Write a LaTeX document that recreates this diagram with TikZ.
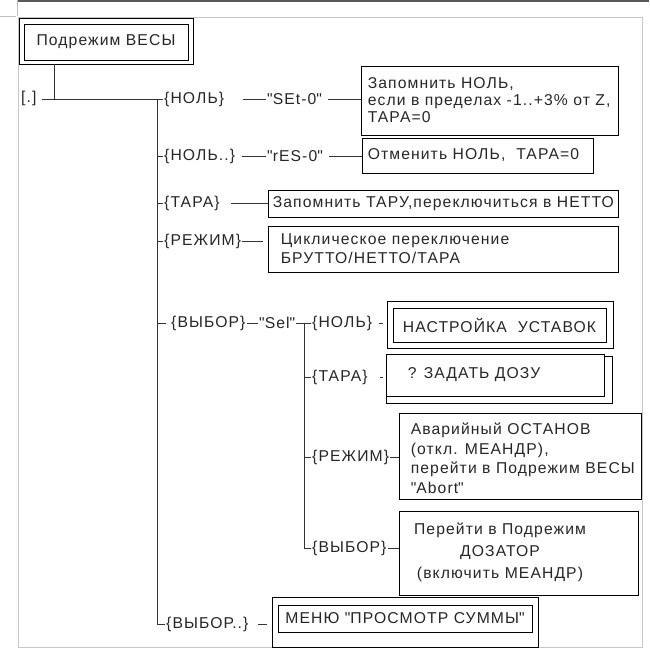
\documentclass[tikz,border=0pt]{standalone}
\usepackage{fontspec}
\setmainfont[LetterSpace=7]{Liberation Sans}
\newcommand{\fsz}{\fontsize{15.7}{18}\selectfont}
\newcommand{\qq}{\textquotedbl}

\begin{document}
\begin{tikzpicture}[x=1pt,y=-1pt,
	every node/.style={font=\fsz, text=black!85},
	lbl/.style={inner sep=1pt, anchor=west},
	box/.style={draw, line width=0.9pt, inner sep=0pt},
	txt/.style={inner sep=0pt, anchor=west, align=left},
	wire/.style={line width=0.7pt, black!80}]
	\useasboundingbox (0,0) rectangle (649,655);
	% page frame
	\draw[black!22, line width=0.8pt] (18,17) rectangle (642,647);
	\draw[black!65, line width=1.5pt] (18,1) -- (649,1);
	\draw[black!25] (0,16) -- (16,16) (17,0) -- (17,16);

	\node[box, minimum width=174pt, minimum height=46pt] (title) at (106,41) {};
	\node[box, minimum width=164pt, minimum height=36pt] (titlein) at (106,42) {Подрежим ВЕСЫ};

	% labels
	\node[lbl] (dot) at (20,98) {[.]};
	\node[lbl] (l1) at (163,99.5) {\{НОЛЬ\}};
	\node[lbl] (s1) at (266,99.5) {\qq SEt-0\qq};
	\node[lbl] (l2) at (163,156) {\{НОЛЬ..\}};
	\node[lbl] (s2) at (266,156) {\qq rES-0\qq};
	\node[lbl] (l3) at (163,203) {\{ТАРА\}};
	\node[lbl] (l4) at (163,241) {\{РЕЖИМ\}};
	\node[lbl] (l5) at (170,323) {\{ВЫБОР\}};
	\node[lbl] (sel) at (258,323) {\qq Sel\qq};
	\node[lbl] (m1) at (311,323) {\{НОЛЬ\}};
	\node[lbl] (m2) at (311,377) {\{ТАРА\}};
	\node[lbl] (m3) at (311,457) {\{РЕЖИМ\}};
	\node[lbl] (m4) at (311,548) {\{ВЫБОР\}};
	\node[lbl] (l6) at (165,624) {\{ВЫБОР..\}};

	% boxes
	\node[box, minimum width=257pt, minimum height=69pt] (b1) at (489.5,100.5) {};
	\node[txt, font=\fontsize{15.7}{17}\selectfont] (t1) at ([xshift=7pt]b1.west) {Запомнить НОЛЬ,\\если в пределах -1..+3\% от Z,\\ТАРА=0};
	\node[box, minimum width=231pt, minimum height=35pt] (b2) at (477.5,155.5) {};
	\node[txt] (t2) at ([xshift=6pt]b2.west) {Отменить НОЛЬ,\ \ ТАРА=0};
	\node[box, minimum width=350pt, minimum height=27pt] (b3) at (443,203.5) {};
	\node[txt] (t3) at ([xshift=5pt]b3.west) {Запомнить ТАРУ,переключиться в НЕТТО};
	\node[box, minimum width=350pt, minimum height=46pt] (b4) at (443,249) {};
	\node[txt, font=\fontsize{15.7}{19}\selectfont] (t4) at ([xshift=13pt]b4.west) {Циклическое переключение\\БРУТТО/НЕТТО/ТАРА};
	\node[box, minimum width=226pt, minimum height=47pt] (b5o) at (500,324.5) {};
	\node[box, minimum width=213pt, minimum height=34pt] (b5) at (499.5,325) {НАСТРОЙКА\ \ УСТАВОК};
	\node[box, minimum width=226pt, minimum height=47pt] (b6s) at (499,379.5) {};
	\node[box, fill=white, minimum width=218pt, minimum height=42pt] (b6) at (495,375) {};
	\node[txt] (t6) at ([xshift=22pt]b6.west) {? ЗАДАТЬ ДОЗУ};
	\node[box, minimum width=242pt, minimum height=86pt] (b7) at (520,456) {};
	\node[txt, font=\fontsize{15.7}{19.5}\selectfont] (t7) at ([xshift=12pt,yshift=-2pt]b7.west) {Аварийный ОСТАНОВ\\(откл. МЕАНДР),\\перейти в Подрежим ВЕСЫ\\\qq Abort\qq};
	\node[box, minimum width=239pt, minimum height=84pt] (b8) at (518.5,553) {};
	\node[inner sep=0pt, align=center, font=\fontsize{15.7}{22}\selectfont] (t8) at ([xshift=-18.5pt,yshift=1pt]b8.center) {Перейти в Подрежим\\ДОЗАТОР\\(включить МЕАНДР)};
	\node[box, minimum width=266pt, minimum height=50pt] (b9o) at (405,622) {};
	\node[box, minimum width=254pt, minimum height=27pt] (b9) at (405,618.5) {МЕНЮ \qq ПРОСМОТР СУММЫ\qq};

	% connectors
	\coordinate (j0) at (54,99.5);
	\coordinate (t0) at (157,99.5);
	\coordinate (c1) at (304,323);
	\draw[wire] (title.south -| j0) -- (j0);
	\draw[wire, shorten <=4pt] (dot.east |- l1.west) -- (l1.west);
	\draw[wire] (t0) |- (l6.west);
	\foreach \n in {l2,l3,l4} \draw[wire] (t0 |- \n.west) -- (\n.west);
	\draw[wire, shorten >=4pt] (t0 |- l5.west) -- (l5.west);
	\draw[wire, shorten <=18pt] (l1.east) -- (s1.west);
	\draw[wire, shorten <=5pt] (s1.east) -- (s1.east -| b1.west);
	\draw[wire, shorten <=6pt] (l2.east) -- (s2.west);
	\draw[wire, shorten <=5pt] (s2.east) -- (s2.east -| b2.west);
	\draw[wire, shorten <=10pt] (l3.east) -- (l3.east -| b3.west);
	\draw[wire, shorten >=5pt] (l4.east) -- (l4.east -| b4.west);
	\draw[wire] (l5.east) -- (sel.west);
	\draw[wire] (sel.east) -- (c1) |- (m4.west);
	\draw[wire] (c1) -- (m1.west);
	\foreach \n in {m2,m3} \draw[wire] (c1 |- \n.west) -- (\n.west);
	\draw[wire, shorten <=6pt, shorten >=4pt] (m1.east) -- (m1.east -| b5o.west);
	\draw[wire, shorten <=11pt, shorten >=3pt] (m2.east) -- (m2.east -| b6.west);
	\draw[wire] (m3.east) -- (m3.east -| b7.west);
	\draw[wire] (m4.east) -- (m4.east -| b8.west);
	\draw[wire, shorten <=8pt, shorten >=5pt] (l6.east) -- (l6.east -| b9o.west);
\end{tikzpicture}
\end{document}
